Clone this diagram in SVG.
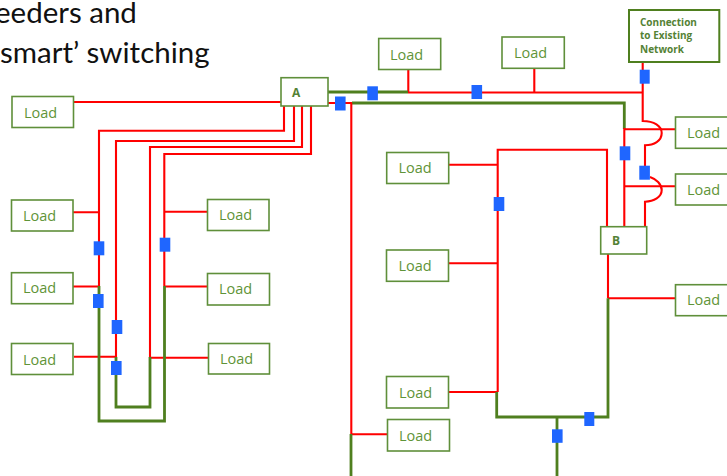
<svg xmlns="http://www.w3.org/2000/svg" width="727" height="476" viewBox="0 0 727 476">
<style>
.bg{fill:#fff}
.box{fill:#fff;stroke:#5f8f3a;stroke-width:1.6}
.lbl{font-family:"Open Sans","Liberation Sans",sans-serif;font-size:14.500px;fill:#5f9438}
.b{font-family:"Open Sans","Liberation Sans",sans-serif;font-weight:700;fill:#548235}
.title{font-family:Lato,"Liberation Sans",sans-serif;font-size:29.500px;fill:#111}
.r{fill:none;stroke:#ff0000;stroke-width:2.100}
.g{fill:none;stroke:#4f7f1f;stroke-width:2.800}
.sw{fill:#1f66ff}
</style>
<rect class="bg" width="727" height="476"/>
<text class="title" x="-5" y="22.500">eeders and</text>
<text class="title" x="0" y="62.500">smart’ switching</text>
<g id="connectors">
<path class="r" d="M74 102H281M284 106V130.700H99V286M294 106V141H116V357M302 106V147H150V358M311 106V154H164.300V286"/>
<path class="r" d="M73 212.300H99M164 211.700H208M73 286.500H99M164 286.500H208M74 356.700H116M150 357.700H208"/>
<path class="g" d="M99 286V421H164.500V286M116 357V407H150V357"/>
<path class="r" d="M408 92.500H642.500M408.300 70V92.500M534.300 68V92.500M642.700 62V121C654 121 661.700 126 661.700 133C661.700 141 654 145.300 645 145.300V172M650 177C656 179 661.700 184 661.700 190C661.700 197 654 201.700 645 201.700V227"/>
<path class="g" d="M327 92H408M352 103H624.300V129"/>
<path class="r" d="M328 103H352M351.300 103V434.300M351.300 434.300H387"/>
<path class="g" d="M351 434V476"/>
<path class="r" d="M624.300 128V227M624.300 129.300H676M624.300 186.300H676M449 164.700H497.700M449 263.300H497.700M449 392H497.700M497.700 392V149.700H607V227M608 254V298.300M608 298.300H676"/>
<path class="g" d="M496.700 392V417H608V298.300M557 417V476"/>
</g>
<g id="switches">
<rect class="sw" x="93.700" y="241.300" width="10.600" height="14"/>
<rect class="sw" x="93" y="294" width="10.600" height="14"/>
<rect class="sw" x="111.700" y="320" width="10.600" height="14"/>
<rect class="sw" x="111" y="361" width="10.600" height="14"/>
<rect class="sw" x="159.700" y="237.700" width="10.600" height="14"/>
<rect class="sw" x="335" y="96.500" width="10.600" height="14"/>
<rect class="sw" x="367.300" y="86.300" width="10.600" height="14"/>
<rect class="sw" x="471.500" y="85" width="10.600" height="14"/>
<rect class="sw" x="639.700" y="69.700" width="10" height="14"/>
<rect class="sw" x="619.700" y="146.300" width="10.600" height="14"/>
<rect class="sw" x="639.300" y="165.700" width="10.600" height="14"/>
<rect class="sw" x="493.700" y="197" width="10.600" height="14"/>
<rect class="sw" x="552" y="429.300" width="10.600" height="13.500"/>
<rect class="sw" x="584.300" y="412" width="10" height="14"/>
</g>
<g id="load1"><rect class="box" x="12" y="96.500" width="61.500" height="31"/><text class="lbl" x="24" y="118">Load</text></g>
<g id="load2"><rect class="box" x="11.500" y="200" width="61.500" height="31"/><text class="lbl" x="23" y="221">Load</text></g>
<g id="load3"><rect class="box" x="11.500" y="272.700" width="61.500" height="31"/><text class="lbl" x="23" y="293">Load</text></g>
<g id="load4"><rect class="box" x="11.500" y="343.500" width="61.500" height="31"/><text class="lbl" x="23" y="365">Load</text></g>
<g id="load5"><rect class="box" x="207.500" y="199.500" width="61.500" height="31"/><text class="lbl" x="219" y="220">Load</text></g>
<g id="load6"><rect class="box" x="207.500" y="273.500" width="62" height="31.500"/><text class="lbl" x="219" y="294">Load</text></g>
<g id="load7"><rect class="box" x="208.500" y="343.500" width="61" height="30.500"/><text class="lbl" x="220" y="364">Load</text></g>
<g id="load8"><rect class="box" x="378.700" y="38.500" width="62" height="31"/><text class="lbl" x="390" y="60">Load</text></g>
<g id="load9"><rect class="box" x="502" y="37" width="62.300" height="31.300"/><text class="lbl" x="514" y="58">Load</text></g>
<g id="load10"><rect class="box" x="386.700" y="152.500" width="62" height="31"/><text class="lbl" x="398.500" y="173">Load</text></g>
<g id="load11"><rect class="box" x="386.500" y="250" width="62" height="31.300"/><text class="lbl" x="398.500" y="271">Load</text></g>
<g id="load12"><rect class="box" x="386.500" y="376.500" width="62" height="31.500"/><text class="lbl" x="399" y="398">Load</text></g>
<g id="load13"><rect class="box" x="387.500" y="419.500" width="62" height="31.500"/><text class="lbl" x="399" y="441">Load</text></g>
<g id="load14"><rect class="box" x="675.500" y="117" width="60" height="31.300"/><text class="lbl" x="687" y="138">Load</text></g>
<g id="load15"><rect class="box" x="675.500" y="174" width="60" height="31"/><text class="lbl" x="687" y="195">Load</text></g>
<g id="load16"><rect class="box" x="675.500" y="284.700" width="60" height="31"/><text class="lbl" x="687" y="305">Load</text></g>
<g id="nodeA"><rect class="box" x="281" y="77.700" width="47" height="28.300"/><text class="b" x="292" y="97" font-size="12">A</text></g>
<g id="nodeB"><rect class="box" x="600.700" y="226.700" width="46" height="27.300"/><text class="b" x="612" y="245" font-size="12">B</text></g>
<g id="network"><rect x="629" y="10" width="90.300" height="52" fill="#fff" stroke="#4f7f1f" stroke-width="2"/><text class="b" font-size="10" x="640" y="25.500">Connection</text><text class="b" font-size="10" x="640" y="39">to Existing</text><text class="b" font-size="10" x="640" y="53">Network</text></g>
</svg>
